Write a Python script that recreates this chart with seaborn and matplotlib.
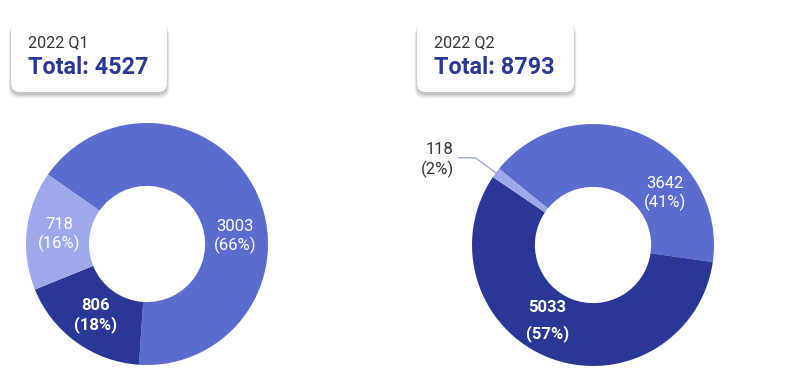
import numpy as np
import matplotlib
matplotlib.use("Agg")
import matplotlib.pyplot as plt
import seaborn as sns
from matplotlib.patches import FancyBboxPatch

# data
q1_labels = ["A", "B", "C"]
q1_values = [3003, 806, 718]
q1_pcts = [66, 18, 16]

q2_labels = ["A", "B", "C"]
q2_values = [3642, 5033, 118]
q2_pcts = [41, 57, 2]

titles = ["2022 Q1", "2022 Q2"]

COLORS = ["#5c6bce", "#2b3794", "#9fa8ea"]
TOTAL_COLOR = "#2b3794"
W, H = 793, 383

sns.set_theme(style="white")
plt.rcParams["font.family"] = ["Roboto", "DejaVu Sans"]

fig = plt.figure(figsize=(W / 100, H / 100), dpi=100)

# overlay axes in pixel units for the header cards
bg = fig.add_axes([0, 0, 1, 1])
bg.set_xlim(0, W)
bg.set_ylim(H, 0)
bg.axis("off")


def draw_card(x0, y0, w, h, title, total):
    # soft shadow, a few stacked translucent layers
    for i, a in enumerate([0.05, 0.05, 0.06, 0.07]):
        d = 4 - i
        bg.add_patch(FancyBboxPatch((x0 - d * 0.6, y0 + 2), w + d * 1.2, h + d * 1.1,
                                    boxstyle="round,pad=0,rounding_size=10",
                                    fc="#000000", ec="none", alpha=a, zorder=1))
    bg.add_patch(FancyBboxPatch((x0, y0), w, h,
                                boxstyle="round,pad=0,rounding_size=9",
                                fc="white", ec="none", zorder=2))
    bg.text(x0 + 17, y0 + 24, title, fontsize=11.6, color="#333333",
            va="baseline", ha="left", zorder=3)
    bg.text(x0 + 17, y0 + 50.5, f"Total: {total}", fontsize=16.8, fontweight="bold",
            color=TOTAL_COLOR, va="baseline", ha="left", zorder=3)


def draw_donut(cx, cy, r, values, pcts, start, bold_idx, shifts,
               outside_idx=None, spread=None):
    ax = fig.add_axes([(cx - r) / W, (H - cy - r) / H, 2 * r / W, 2 * r / H])
    wedges, _ = ax.pie(values, colors=COLORS, startangle=start, counterclock=False,
                       radius=1, wedgeprops=dict(width=0.52, linewidth=0))
    ax.set_xlim(-1, 1)
    ax.set_ylim(-1, 1)
    ax.set_aspect("equal")
    for i, wdg in enumerate(wedges):
        mid_deg = (wdg.theta1 + wdg.theta2) / 2
        mid = np.deg2rad(mid_deg)
        txt = f"{values[i]}\n({pcts[i]}%)"
        if i == outside_idx:
            p0 = (np.cos(mid), np.sin(mid))
            p1 = (1.21 * np.cos(mid), 1.21 * np.sin(mid))
            p2 = (p1[0] - 0.14, p1[1])
            ax.plot([p0[0], p1[0], p2[0]], [p0[1], p1[1], p2[1]], color=COLORS[2],
                    lw=1, clip_on=False)
            ax.text(p2[0] - 0.04, p2[1] - 0.02, txt, ha="right", va="center",
                    fontsize=12, color="#333333", linespacing=1.25, clip_on=False)
            continue
        lab = np.deg2rad(mid_deg + shifts[i])
        bold = i == bold_idx
        ax.text(0.73 * np.cos(lab), 0.73 * np.sin(lab), txt, ha="center", va="center",
                fontsize=12, color="white", fontweight="bold" if bold else "normal",
                linespacing=spread if (bold and spread) else 1.2)
    ax.axis("off")


draw_card(11, 23, 156, 69, titles[0], sum(q1_values))
draw_card(417, 23, 157, 69, titles[1], sum(q2_values))

draw_donut(147, 244, 121, q1_values, q1_pcts, start=145, bold_idx=1,
           shifts=[-21, 0, 0])
draw_donut(593, 245, 121, q2_values, q2_pcts, start=141, bold_idx=1,
           shifts=[-31, -10, 0], outside_idx=2, spread=1.75)

fig.savefig("out.png", dpi=100, facecolor="white")
